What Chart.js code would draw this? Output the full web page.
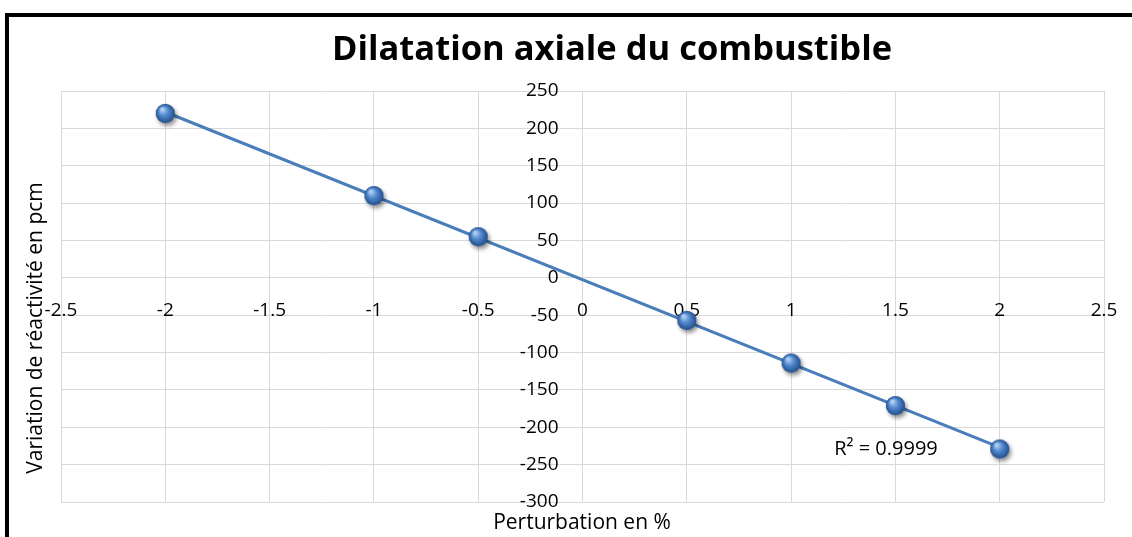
<!DOCTYPE html>
<html>
<head>
<meta charset="utf-8">
<script src="https://cdn.jsdelivr.net/npm/chart.js@4.4.0/dist/chart.umd.min.js"></script>
<style>
  html, body { margin: 0; padding: 0; background: #fff; }
  #wrap { width: 1132px; height: 537px; }
</style>
</head>
<body>
<div id="wrap"><canvas id="mycanvas" width="1132" height="537"></canvas></div>
<script>
// data
var perturbation = [-2, -1, -0.5, 0.5, 1, 1.5, 2];
var reactivite = [220, 110, 55, -57, -114, -171, -229];

var chartTitle = "Dilatation axiale du combustible";
var xTitle = "Perturbation en %";
var yTitle = "Variation de réactivité en pcm";
var r2Label = "R² = 0.9999";

var xMin = -2.5, xMax = 2.5, xStep = 0.5;
var yMin = -300, yMax = 250, yStep = 50;

var FONT = '"Open Sans", "DejaVu Sans", sans-serif';

// linear trendline (least squares) over the data range
var n = perturbation.length, sx = 0, sy = 0, sxy = 0, sxx = 0;
for (var i = 0; i < n; i++) {
  sx += perturbation[i]; sy += reactivite[i];
  sxy += perturbation[i] * reactivite[i]; sxx += perturbation[i] * perturbation[i];
}
var slope = (n * sxy - sx * sy) / (n * sxx - sx * sx);
var intercept = (sy - slope * sx) / n;
var xLo = Math.min.apply(null, perturbation), xHi = Math.max.apply(null, perturbation);
var trend = [{x: xLo, y: slope * xLo + intercept}, {x: xHi, y: slope * xHi + intercept}];

var points = [];
for (var i = 0; i < n; i++) points.push({x: perturbation[i], y: reactivite[i]});

// shiny blue ball used as marker
function makeBall(r) {
  var c = document.createElement('canvas');
  var s = 2 * r + 14;
  c.width = s; c.height = s;
  var g = c.getContext('2d');
  var cx = s / 2, cy = s / 2;
  g.save();
  g.shadowColor = 'rgba(0,0,0,0.45)';
  g.shadowBlur = 4; g.shadowOffsetX = 2; g.shadowOffsetY = 3;
  g.beginPath(); g.arc(cx, cy, r, 0, 2 * Math.PI);
  g.fillStyle = '#2f609f'; g.fill();
  g.restore();
  var grad = g.createRadialGradient(cx - r * 0.35, cy - r * 0.45, r * 0.1, cx, cy, r);
  grad.addColorStop(0, '#b3d0f3');
  grad.addColorStop(0.45, '#5289cf');
  grad.addColorStop(1, '#234f8c');
  g.beginPath(); g.arc(cx, cy, r, 0, 2 * Math.PI);
  g.fillStyle = grad; g.fill();
  return c;
}
var ball = makeBall(9.5);

var decor = {
  id: 'decor',
  afterDraw: function(chart) {
    var ctx = chart.ctx;
    ctx.save();
    // frame
    ctx.fillStyle = '#000';
    ctx.fillRect(5, 13, 1127, 4);
    ctx.fillRect(5, 13, 4, 524);
    // title
    ctx.textAlign = 'center';
    ctx.textBaseline = 'alphabetic';
    var size = 30;
    ctx.font = 'bold ' + size + 'px ' + FONT;
    var w = ctx.measureText(chartTitle).width;
    size = Math.round(size * 560 / w * 10) / 10;
    ctx.font = 'bold ' + size + 'px ' + FONT;
    ctx.fillText(chartTitle, 612, 60);
    // axis titles
    ctx.font = '21px ' + FONT;
    ctx.textBaseline = 'middle';
    ctx.fillText(xTitle, 582, 523);
    ctx.save();
    ctx.translate(36, 328);
    ctx.rotate(-Math.PI / 2);
    ctx.fillText(yTitle, 0, 0);
    ctx.restore();
    // R² label
    ctx.font = '20px ' + FONT;
    var xs = chart.scales.x, ys = chart.scales.y;
    ctx.fillText(r2Label, xs.getPixelForValue(1.455), ys.getPixelForValue(-229));
    ctx.restore();
  }
};

function fmt(v) {
  return String(Math.round(v * 10) / 10);
}

var ctx = document.getElementById('mycanvas');
var LineGraph = new Chart(ctx, {
  type: 'scatter',
  data: {
    datasets: [
      {
        label: 'points',
        data: points,
        showLine: false,
        pointStyle: ball,
        pointRadius: 9,
        order: 0
      },
      {
        label: 'trend',
        data: trend,
        showLine: true,
        borderColor: '#4a7ebb',
        borderWidth: 3,
        pointRadius: 0,
        fill: false,
        order: 1
      }
    ]
  },
  options: {
    responsive: false,
    animation: false,
    layout: { autoPadding: false, padding: { left: 61, right: 28, top: 91, bottom: 35 } },
    plugins: {
      legend: { display: false },
      title: { display: false },
      tooltip: { enabled: false }
    },
    scales: {
      x: {
        type: 'linear',
        min: xMin, max: xMax,
        // labels sit a little below the zero line, like Excel
        position: { y: -28 },
        border: { display: false },
        grid: { color: '#d9d9d9', lineWidth: 1, drawTicks: false },
        ticks: { stepSize: xStep, padding: 0, color: '#000', font: { family: FONT, size: 19 }, callback: fmt }
      },
      y: {
        type: 'linear',
        min: yMin, max: yMax,
        position: { x: -0.115 },
        border: { display: false },
        grid: { color: '#d9d9d9', lineWidth: 1, drawTicks: false },
        ticks: { stepSize: yStep, color: '#000', font: { family: FONT, size: 19 }, callback: fmt }
      }
    }
  },
  plugins: [decor]
});
</script>
</body>
</html>
